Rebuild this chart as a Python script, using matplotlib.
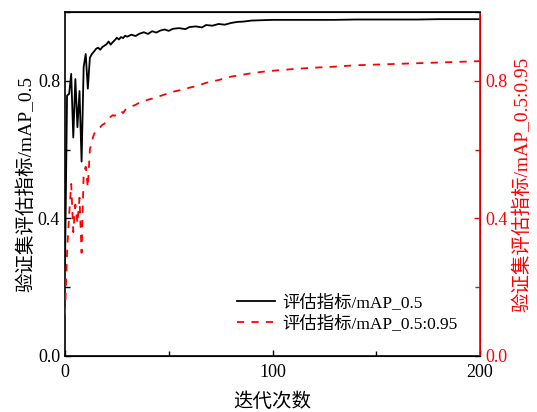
import matplotlib
matplotlib.use("Agg")
import matplotlib.pyplot as plt
from matplotlib.ticker import MultipleLocator, FormatStrFormatter

plt.rcParams['font.family'] = ['Liberation Serif', 'Noto Sans CJK SC']
plt.rcParams['axes.unicode_minus'] = False

# epochs at which the validation metrics were recorded
epochs = [0, 1, 2, 3, 4, 5, 6, 7, 8, 9, 10, 11, 12, 13, 14, 15, 16, 17, 18, 19,
          20, 21, 22, 23, 24, 25, 26, 27, 28, 29, 30, 32, 34, 36, 38, 40, 42, 44,
          46, 48, 50, 52, 55, 58, 60, 63, 66, 68, 71, 74, 77, 80, 83, 86, 90, 95,
          100, 110, 120, 130, 140, 150, 160, 170, 180, 190, 200]

# mAP@0.5
map50 = [0.25, 0.757, 0.762, 0.82, 0.635, 0.805, 0.665, 0.77, 0.565, 0.84,
         0.878, 0.777, 0.867, 0.878, 0.885, 0.893, 0.896, 0.890, 0.898, 0.902,
         0.906, 0.914, 0.905, 0.912, 0.918, 0.925, 0.920, 0.927, 0.924, 0.931,
         0.928, 0.934, 0.930, 0.937, 0.941, 0.936, 0.944, 0.940, 0.946, 0.949,
         0.945, 0.951, 0.953, 0.950, 0.956, 0.958, 0.955, 0.962, 0.960, 0.965,
         0.963, 0.968, 0.971, 0.972, 0.975, 0.976, 0.977, 0.977, 0.977, 0.977,
         0.978, 0.978, 0.978, 0.978, 0.979, 0.979, 0.979]

# mAP@0.5:0.95
map50_95 = [0.12, 0.30, 0.41, 0.50, 0.36, 0.44, 0.385, 0.46, 0.30, 0.53,
            0.55, 0.49, 0.60, 0.625, 0.645, 0.655, 0.66, 0.665, 0.672, 0.675,
            0.685, 0.69, 0.695, 0.70, 0.698, 0.705, 0.708, 0.712, 0.706, 0.715,
            0.72, 0.725, 0.73, 0.737, 0.74, 0.745, 0.748, 0.752, 0.756, 0.76,
            0.764, 0.768, 0.772, 0.776, 0.78, 0.784, 0.79, 0.794, 0.798, 0.802,
            0.807, 0.812, 0.815, 0.818, 0.822, 0.826, 0.829, 0.834, 0.838, 0.841,
            0.845, 0.847, 0.849, 0.851, 0.853, 0.855, 0.857]

fig = plt.figure(figsize=(5.37, 4.12), dpi=100)
ax = fig.add_axes([0.121, 0.136, 0.773, 0.835])
ax2 = ax.twinx()

l1, = ax.plot(epochs, map50, color='black', lw=1.3, label='评估指标/mAP_0.5')
l2, = ax2.plot(epochs, map50_95, color='red', lw=1.3, dashes=(4, 4),
               label='评估指标/mAP_0.5:0.95')

for a in (ax, ax2):
    a.set_xlim(0, 200)
    a.set_ylim(0, 1.0)
    a.yaxis.set_major_locator(MultipleLocator(0.4))
    a.yaxis.set_minor_locator(MultipleLocator(0.2))
    a.yaxis.set_major_formatter(FormatStrFormatter('%.1f'))
ax.xaxis.set_major_locator(MultipleLocator(100))
ax.xaxis.set_minor_locator(MultipleLocator(50))

ax.tick_params(which='both', direction='in', labelsize=13, length=4.5, width=1)
ax.tick_params(which='minor', length=3.5)
ax.tick_params(axis='y', which='both', right=False)
ax.tick_params(axis='x', which='both', top=False, pad=6)
ax2.tick_params(which='both', direction='in', labelsize=13, length=4.5, width=1,
                colors='red')
ax2.tick_params(which='minor', length=3.5)

ax2.spines['right'].set_color('red')
ax2.spines['right'].set_linewidth(1.2)
for s in ('left', 'bottom', 'top'):
    ax.spines[s].set_linewidth(1.2)
ax2.spines['left'].set_visible(False)

ax.set_xlabel('迭代次数', fontsize=14, labelpad=8)
ax.set_ylabel('验证集评估指标/mAP_0.5', fontsize=14, labelpad=2)
ax2.set_ylabel('验证集评估指标/mAP_0.5:0.95', fontsize=14, color='red', labelpad=4)

ax2.legend(handles=[l1, l2], loc='center left', bbox_to_anchor=(0.414, 0.125),
           frameon=False, fontsize=12.5, borderpad=0, borderaxespad=0,
           handlelength=2.2, handletextpad=0.4, labelspacing=0.25)

fig.savefig('out.png', dpi=100)
